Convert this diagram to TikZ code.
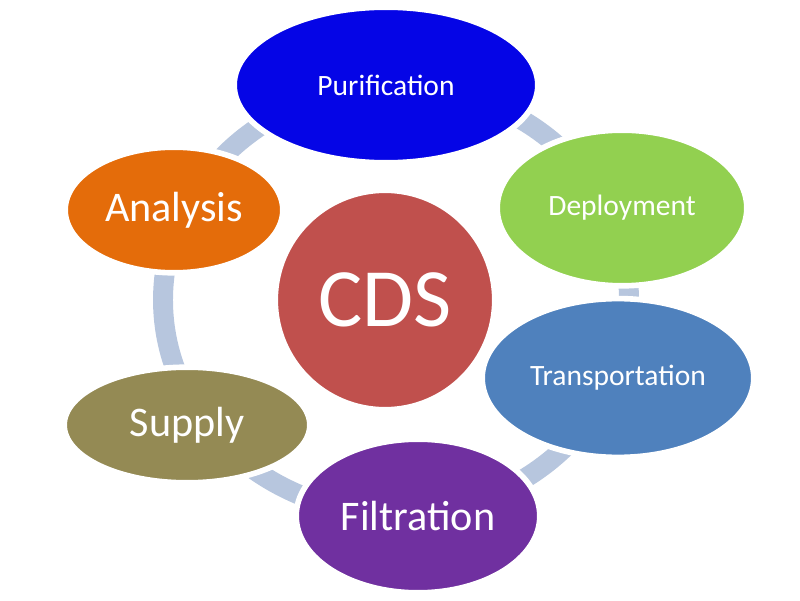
\documentclass[tikz,border=0pt]{standalone}
\usepackage{fontspec}
\setmainfont{Carlito}
\usetikzlibrary{shapes.geometric,backgrounds}
\definecolor{purblue}{HTML}{0505E6}
\definecolor{depgreen}{HTML}{92D050}
\definecolor{transblue}{HTML}{4F81BD}
\definecolor{filtpurple}{HTML}{7030A0}
\definecolor{suppolive}{HTML}{948A54}
\definecolor{anaorange}{HTML}{E46C0A}
\definecolor{cdsred}{HTML}{C0504D}
\definecolor{ringblue}{HTML}{B7C6DE}

\begin{document}
\begin{tikzpicture}
\tikzstyle{blob}=[ellipse,draw=white,line width=4pt,inner sep=0pt,text=white]
\tikzstyle{small}=[blob,font=\fontsize{21}{25}\selectfont]
\tikzstyle{big}=[blob,font=\fontsize{30}{36}\selectfont]
\tikzstyle{ring}=[draw=ringblue,line width=14.2pt]
\useasboundingbox (0,0) rectangle (20,15);
\node[small,fill=purblue,minimum width=7.59cm,minimum height=3.89cm] (pur) at (9.65,12.875) {Purification};
\node[small,fill=depgreen,minimum width=6.24cm,minimum height=3.89cm] (dep) at (15.55,9.8) {Deployment};
\node[small,fill=transblue,minimum width=6.79cm,minimum height=3.97cm] (trans) at (15.45,5.55) {Transportation};
\node[big,fill=filtpurple,minimum width=6.09cm,minimum height=3.84cm] (filt) at (10.45,2.1) {Filtration};
\node[big,fill=suppolive,minimum width=6.14cm,minimum height=2.89cm] (supp) at (4.675,4.375) {Supply};
\node[big,fill=anaorange,minimum width=5.44cm,minimum height=3.14cm] (ana) at (4.35,9.75) {Analysis};
\node[circle,fill=cdsred,draw=white,line width=1.5pt,minimum size=5.4cm,inner sep=0pt,text=white,font=\fontsize{59}{70}\selectfont] (cds) at (9.625,7.5) {CDS};
\coordinate (hub) at (9.9,7.5);
\begin{scope}[on background layer]
\draw[ring] (hub) circle [x radius=5.825cm, y radius=5.35cm];
\end{scope}
\end{tikzpicture}
\end{document}
